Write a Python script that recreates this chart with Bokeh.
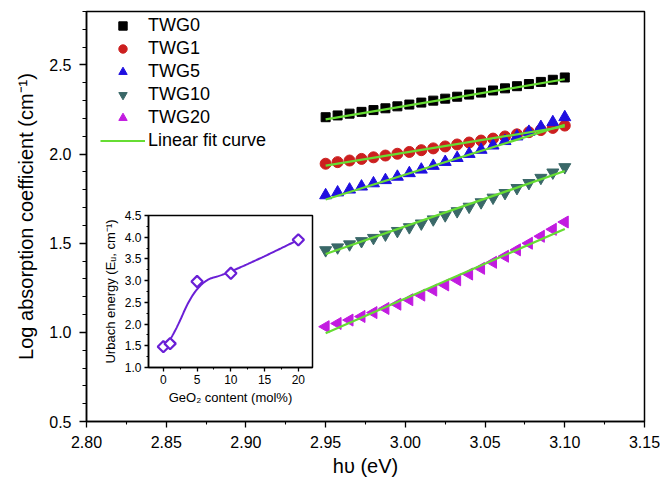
import numpy as np
from bokeh.plotting import figure
from bokeh.models import (SingleIntervalTicker, FixedTicker, NumeralTickFormatter, Legend,
                          LegendItem, Range1d)
from bokeh.layouts import column
from bokeh.embed import file_html
from bokeh.resources import INLINE

# ---------------- data ----------------
hv = [2.95, 2.9575, 2.965, 2.9725, 2.98, 2.9875, 2.995, 3.0025, 3.01, 3.0175, 3.025,
      3.0325, 3.04, 3.0475, 3.055, 3.0625, 3.07, 3.0775, 3.085, 3.0925, 3.10]

twg0 = [2.207, 2.217, 2.227, 2.237, 2.247, 2.257, 2.268, 2.278, 2.289, 2.300, 2.311,
        2.322, 2.334, 2.345, 2.357, 2.369, 2.381, 2.393, 2.405, 2.417, 2.430]
twg1 = [1.946, 1.955, 1.964, 1.973, 1.982, 1.992, 2.002, 2.012, 2.022, 2.032, 2.043,
        2.054, 2.065, 2.076, 2.087, 2.099, 2.111, 2.123, 2.135, 2.147, 2.160]
twg5 = [1.769, 1.785, 1.801, 1.818, 1.836, 1.854, 1.873, 1.893, 1.913, 1.934, 1.956,
        1.978, 2.001, 2.024, 2.048, 2.073, 2.099, 2.125, 2.152, 2.179, 2.207]
twg10 = [1.461, 1.477, 1.494, 1.512, 1.530, 1.549, 1.569, 1.590, 1.611, 1.634, 1.657,
         1.680, 1.705, 1.730, 1.756, 1.782, 1.810, 1.838, 1.867, 1.897, 1.927]
twg20 = [1.032, 1.050, 1.069, 1.089, 1.111, 1.134, 1.158, 1.183, 1.209, 1.237, 1.266,
         1.295, 1.327, 1.359, 1.393, 1.427, 1.463, 1.500, 1.539, 1.578, 1.619]

fit_x = [2.95, 3.10]
fit_twg0 = [2.195, 2.420]
fit_twg1 = [1.935, 2.155]
fit_twg5 = [1.745, 2.165]
fit_twg10 = [1.440, 1.905]
fit_twg20 = [0.995, 1.580]

x_ticks = [2.80, 2.85, 2.90, 2.95, 3.00, 3.05, 3.10, 3.15]
x_minor = [2.825, 2.875, 2.925, 2.975, 3.025, 3.075, 3.125]

geo2 = [0, 1, 5, 10, 20]
urbach = [1.48, 1.55, 2.98, 3.17, 3.94]

# ---------------- styles ----------------
FONT = "Liberation Sans"
GREEN = "#66dd33"
C0, C1, C5, C10, C20 = "#000000", "#cc1f1f", "#1f0fe0", "#3a6868", "#c21be0"
PURPLE = "#6a1fd6"


def style_axis(ax, tick_px, label_px, tick_out, minor_out, lab_standoff, title_standoff):
    ax.major_label_text_font = FONT
    ax.major_label_text_font_size = tick_px
    ax.major_label_text_color = "black"
    ax.axis_label_text_font = FONT
    ax.axis_label_text_font_size = label_px
    ax.axis_label_text_font_style = "normal"
    ax.axis_label_text_color = "black"
    ax.axis_line_color = "black"
    ax.axis_line_width = 1.5
    ax.major_tick_line_color = "black"
    ax.minor_tick_line_color = "black"
    ax.major_tick_line_width = 1.3
    ax.minor_tick_line_width = 1.1
    ax.major_tick_in = 0
    ax.major_tick_out = tick_out
    ax.minor_tick_in = 0
    ax.minor_tick_out = minor_out
    ax.major_label_standoff = lab_standoff
    ax.axis_label_standoff = title_standoff


def style_frame(fig):
    fig.xgrid.visible = False
    fig.ygrid.visible = False
    fig.outline_line_color = "black"
    fig.outline_line_width = 1.5
    fig.outline_line_alpha = 1.0


# ---------------- main figure ----------------
p = figure(frame_width=558, frame_height=410, output_backend="svg", toolbar_location=None,
           x_range=Range1d(2.80, 3.15), y_range=Range1d(0.5, 2.8),
           min_border_left=86, min_border_right=16, min_border_top=11, min_border_bottom=60,
           x_axis_label="h\u03c5 (eV)", y_axis_label="Log absorption coefficient (cm\u207b\u00b9)")
p.background_fill_color = "white"
p.border_fill_color = "white"

p.xaxis.ticker = FixedTicker(ticks=x_ticks, minor_ticks=x_minor)
p.xaxis.formatter = NumeralTickFormatter(format="0.00")
p.yaxis.ticker = SingleIntervalTicker(interval=0.5, num_minor_ticks=5)
p.yaxis.formatter = NumeralTickFormatter(format="0.0")
style_axis(p.xaxis[0], "16px", "20px", 6, 3, 8, 4)
style_axis(p.yaxis[0], "16px", "20px", 7, 4, 8, 9)
style_frame(p)

r0 = p.scatter(hv, twg0, marker="square", size=9, color=C0)
r1 = p.scatter(hv, twg1, marker="circle", size=11, color=C1)
r5 = p.scatter(hv, twg5, marker="triangle", size=12, color=C5)
r10 = p.scatter(hv, twg10, marker="inverted_triangle", size=12, color=C10)
r20 = p.scatter(hv, twg20, marker="triangle", angle=np.pi / 2, size=12, color=C20)

lf = None
for fy in (fit_twg0, fit_twg1, fit_twg5, fit_twg10, fit_twg20):
    rl = p.line(fit_x, fy, line_color=GREEN, line_width=2.2)
    if lf is None:
        lf = rl

legend = Legend(items=[LegendItem(label="TWG0", renderers=[r0]),
                       LegendItem(label="TWG1", renderers=[r1]),
                       LegendItem(label="TWG5", renderers=[r5]),
                       LegendItem(label="TWG10", renderers=[r10]),
                       LegendItem(label="TWG20", renderers=[r20]),
                       LegendItem(label="Linear fit curve", renderers=[lf])],
                location=(12, 268))
legend.label_text_font = FONT
legend.label_text_font_size = "18px"
legend.label_text_color = "black"
legend.glyph_width = 45
legend.glyph_height = 21
legend.label_height = 21
legend.spacing = 2
legend.padding = 2
legend.margin = 0
legend.label_standoff = 3
legend.border_line_alpha = 0
legend.background_fill_alpha = 0
p.add_layout(legend)

# ---------------- inset ----------------
inset = figure(frame_width=164, frame_height=152, output_backend="svg", toolbar_location=None,
               x_range=Range1d(-2.2, 22.1), y_range=Range1d(1.0, 4.5),
               min_border_left=86, min_border_right=16, min_border_top=10, min_border_bottom=45,
               x_axis_label="GeO\u2082 content (mol%)",
               y_axis_label="Urbach energy (E\u1d64, cm\u207b\u00b9)")
inset.styles = {"position": "absolute", "left": "62px", "top": "205px"}
inset.background_fill_alpha = 0
inset.border_fill_alpha = 0
inset.xaxis.ticker = SingleIntervalTicker(interval=5, num_minor_ticks=2)
inset.yaxis.ticker = SingleIntervalTicker(interval=0.5, num_minor_ticks=2)
inset.yaxis.formatter = NumeralTickFormatter(format="0.0")
style_axis(inset.xaxis[0], "12px", "13px", 4, 2, 3, 3)
style_axis(inset.yaxis[0], "12px", "13px", 4, 2, 3, 4)
style_frame(inset)


# quadratic clamped B-spline with the inset data as control points (Origin-style smoothing)
def bspline(cx, cy, degree=2, n=200):
    P = np.column_stack([cx, cy]).astype(float)
    m = len(P)
    inner = np.linspace(0, 1, m - degree + 1)[1:-1]
    t = np.concatenate([np.zeros(degree + 1), inner, np.ones(degree + 1)])
    out = []
    for u in np.linspace(0, 1, n):
        k = np.searchsorted(t, u, side="right") - 1
        k = min(max(k, degree), m - 1)
        d = [P[j + k - degree].copy() for j in range(degree + 1)]
        for r in range(1, degree + 1):
            for j in range(degree, r - 1, -1):
                i = j + k - degree
                den = t[i + degree + 1 - r] - t[i]
                a = 0.0 if den == 0 else (u - t[i]) / den
                d[j] = (1 - a) * d[j - 1] + a * d[j]
        out.append(d[degree])
    out = np.array(out)
    return out[:, 0], out[:, 1]


sx, sy = bspline(geo2, urbach)
inset.line(sx, sy, line_color=PURPLE, line_width=2)
inset.scatter(geo2, urbach, marker="square", angle=np.pi / 4, size=8, fill_color="white",
              line_color=PURPLE, line_width=2.2)

layout = column(p, inset)

open("out.html", "w").write(file_html(layout, INLINE))
